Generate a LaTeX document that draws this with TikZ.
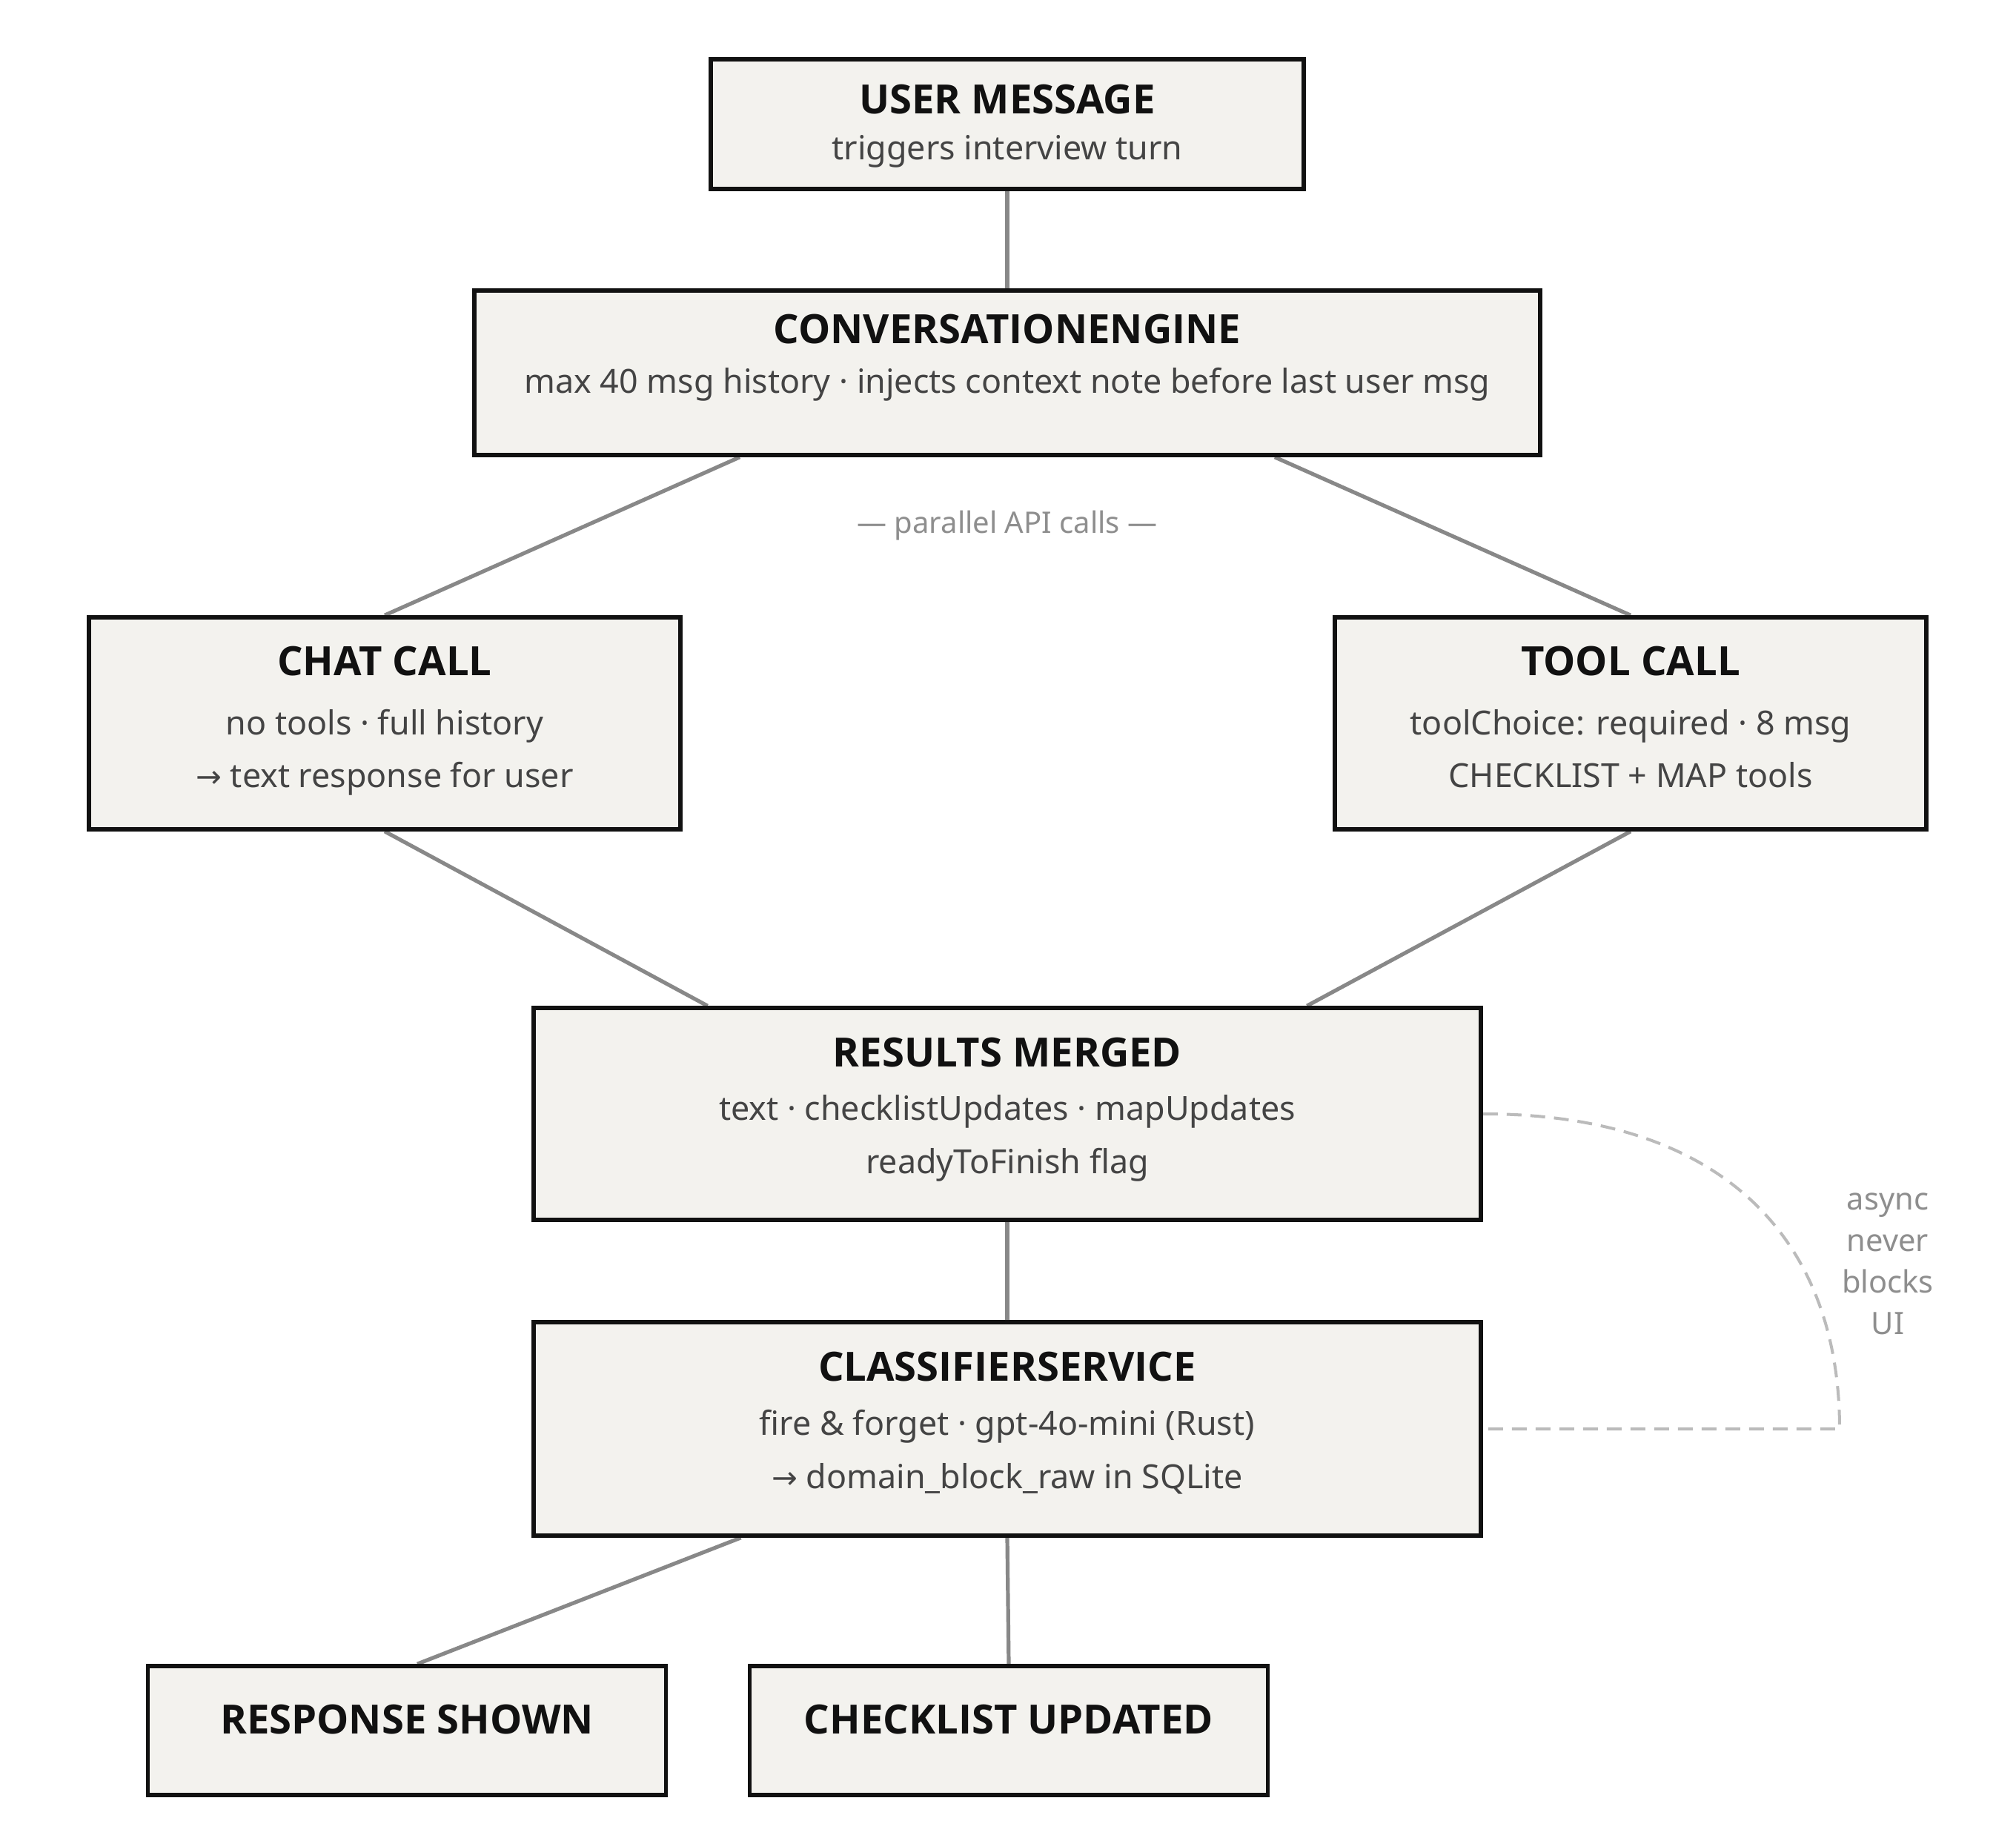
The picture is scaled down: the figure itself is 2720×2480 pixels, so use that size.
\documentclass[tikz,border=0pt]{standalone}
\usepackage{fontspec}
\setmainfont{Noto Sans}
\newfontfamily\ttlfont{Open Sans}
\newfontfamily\symfont{DejaVu Sans}
\usetikzlibrary{calc}
\pgfdeclarelayer{bg}
\pgfsetlayers{bg,main}
\definecolor{boxfill}{HTML}{F3F2EE}
\definecolor{boxline}{HTML}{111111}
\definecolor{subtxt}{HTML}{444444}
\definecolor{conncol}{HTML}{888888}
\definecolor{dashcol}{HTML}{BBBBBB}
\definecolor{notecol}{HTML}{8E8E8E}
\newcommand{\rarr}{{\symfont\fontsize{10.4}{14}\selectfont →}}
\begin{document}
\begin{tikzpicture}[x=0.25pt,y=-0.25pt,
  box/.style={draw=boxline, fill=boxfill, line width=1.4pt, inner sep=0pt},
  ttl/.style={anchor=base, inner sep=0pt, text=boxline, font=\ttlfont\bfseries\fontsize{13.6}{16}\selectfont},
  sub/.style={anchor=base, inner sep=0pt, text=subtxt, font=\fontsize{11.2}{14}\selectfont},
  conn/.style={draw=conncol, line width=1.3pt},
  asyncline/.style={draw=dashcol, line width=1pt, dash pattern=on 5pt off 3pt},
  note/.style={inner sep=0pt, text=notecol}]
\begin{pgfonlayer}{bg}
\fill[white] (0,0) rectangle (2720,2480);
\end{pgfonlayer}
\useasboundingbox (0,0) rectangle (2720,2480);

% boxes
\node[box, minimum width=200pt, minimum height=43.75pt] (um) at (1359,167.5) {};
\node[box, minimum width=359.5pt, minimum height=55.5pt] (ce) at (1359,503) {};
\node[box, minimum width=199.5pt, minimum height=71.5pt] (chat) at (519,976) {};
\node[box, minimum width=199.5pt, minimum height=71.5pt] (tool) at (2200,976) {};
\node[box, minimum width=319.5pt, minimum height=71.5pt] (rm) at (1359,1503) {};
\node[box, minimum width=319.5pt, minimum height=72pt] (cs) at (1359,1928) {};
\node[box, minimum width=174.75pt, minimum height=43.5pt] (resp) at (549,2335) {};
\node[box, minimum width=174.75pt, minimum height=43.5pt] (chk) at (1361,2335) {};

% texts
\node[ttl] (umt) at (1359,153.6) {USER MESSAGE};
\node[sub] (ums) at (1359,216) {triggers interview turn};
\node[ttl] (cet) at (1359,463.6) {CONVERSATIONENGINE};
\node[sub] (ces) at (1359,531) {max 40 msg history · injects context note before last user msg};
\node[ttl] (chatt) at (519,912) {CHAT CALL};
\node[sub] (chats1) at (519,992) {no tools · full history};
\node[sub] (chats2) at (519,1063) {\rarr\ text response for user};
\node[ttl] (toolt) at (2200,912) {TOOL CALL};
\node[sub] (tools1) at (2200,992) {toolChoice: required · 8 msg};
\node[sub] (tools2) at (2200,1063) {CHECKLIST + MAP tools};
\node[ttl] (rmt) at (1359,1439) {RESULTS MERGED};
\node[sub] (rms1) at (1359,1511) {text · checklistUpdates · mapUpdates};
\node[sub] (rms2) at (1359,1583) {readyToFinish flag};
\node[ttl] (cst) at (1359,1863) {CLASSIFIERSERVICE};
\node[sub] (css1) at (1359,1936) {fire \& forget · gpt-4o-mini (Rust)};
\node[sub] (css2) at (1359,2008) {\rarr\ domain\_block\_raw in SQLite};
\node[ttl] (respt) at (549,2339) {RESPONSE SHOWN};
\node[ttl] (chkt) at (1361,2339) {CHECKLIST UPDATED};

% notes
\node[note, anchor=base, font=\fontsize{10}{12}\selectfont] (par) at (1359,720) {— parallel API calls —};
\node[note, align=center, font=\fontsize{10.4}{14}\selectfont] (async) at (2547,1705) {async\\never\\blocks\\UI};
\coordinate (dk) at (2482,1928);

% connectors
\begin{pgfonlayer}{bg}
\draw[conn] (um.south) -- (ce.north);
\draw[conn] ($(ce.south west)!0.25!(ce.south east)$) -- (chat.north);
\draw[conn] ($(ce.south west)!0.75!(ce.south east)$) -- (tool.north);
\draw[conn] (chat.south) -- ($(rm.north west)!0.185!(rm.north east)$);
\draw[conn] (tool.south) -- ($(rm.north west)!0.815!(rm.north east)$);
\draw[conn] (rm.south) -- (cs.north);
\draw[conn] ($(cs.south west)!0.22!(cs.south east)$) -- ($(resp.north)+(14,0)$);
\draw[conn] (cs.south) -- (chk.north);
\draw[asyncline] (rm.east) .. controls +(332,0) and +(0,-248) .. (dk |- cs.east) -- (cs.east);
\end{pgfonlayer}
\end{tikzpicture}
\end{document}
